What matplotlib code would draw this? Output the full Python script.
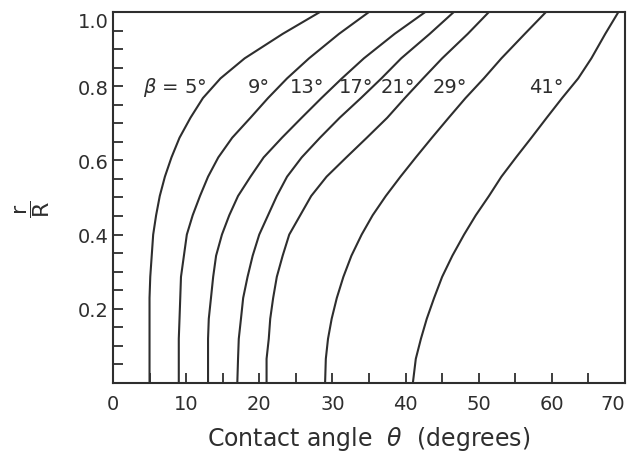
import numpy as np
import matplotlib.pyplot as plt

r_over_R = [0, 0.065, 0.119, 0.173, 0.229, 0.286, 0.343, 0.400, 0.452, 0.504,
            0.556, 0.608, 0.661, 0.715, 0.768, 0.821, 0.875, 0.941, 1.0]

# contact angle (degrees) along each curve
theta_5 = [5.0, 5.0, 5.0, 5.0, 5.0, 5.1, 5.3, 5.5, 5.9, 6.4,
           7.1, 8.0, 9.1, 10.6, 12.3, 14.7, 18.0, 23.2, 28.3]
theta_9 = [9.0, 9.0, 9.0, 9.1, 9.2, 9.3, 9.7, 10.1, 10.9, 11.9,
           13.0, 14.4, 16.3, 18.8, 21.2, 23.8, 26.8, 30.9, 35.0]
theta_13 = [13.0, 13.0, 13.0, 13.1, 13.4, 13.7, 14.1, 14.9, 15.9, 17.1,
            18.8, 20.6, 23.1, 25.8, 28.5, 31.3, 34.3, 38.5, 42.7]
theta_17 = [17.0, 17.1, 17.2, 17.5, 17.8, 18.4, 19.1, 20.0, 21.2, 22.4,
            23.8, 25.8, 28.3, 31.0, 33.9, 36.7, 39.4, 43.3, 46.6]
theta_21 = [21.0, 21.0, 21.3, 21.5, 21.9, 22.4, 23.2, 24.1, 25.6, 27.1,
            29.2, 31.9, 34.7, 37.5, 39.9, 42.4, 45.0, 48.5, 51.4]
theta_29 = [29.0, 29.1, 29.4, 29.9, 30.6, 31.5, 32.6, 34.0, 35.5, 37.3,
            39.3, 41.4, 43.6, 45.9, 48.2, 50.7, 53.1, 56.3, 59.2]
theta_41 = [41.0, 41.4, 42.1, 42.9, 43.9, 45.0, 46.4, 48.0, 49.6, 51.4,
            53.1, 55.1, 57.2, 59.3, 61.4, 63.6, 65.4, 67.3, 69.1]

curves = [theta_5, theta_9, theta_13, theta_17, theta_21, theta_29, theta_41]
labels = [r'$\beta$ = 5°', '9°', '13°', '17°', '21°', '29°', '41°']
label_x = [8.4, 20.0, 26.5, 33.3, 38.9, 46.1, 59.3]
label_y = 0.8

ink = '#2e2e2e'
plt.rcParams['font.family'] = ['DejaVu Sans']
plt.rcParams['mathtext.fontset'] = 'dejavusans'

fig = plt.figure(figsize=(6.31, 4.56), dpi=100)
ax = fig.add_axes([0.179, 0.158, 0.8115, 0.8135])

for th in curves:
    ax.plot(th, r_over_R, color=ink, lw=1.5, solid_joinstyle='round')

for lab, lx in zip(labels, label_x):
    ax.text(lx, label_y, lab, ha='center', va='center', fontsize=14, color=ink)

ax.set_xlim(0, 70)
ax.set_ylim(0, 1.0)
ax.set_xticks(np.arange(0, 71, 10))
ax.set_xticks(np.arange(0, 71, 5), minor=True)
ax.set_yticks([0.2, 0.4, 0.6, 0.8, 1.0])
ax.set_yticklabels(['0.2', '0.4', '0.6', '0.8', '1.0'])
ax.set_yticks(np.arange(0.05, 1.0, 0.05), minor=True)

ax.tick_params(which='both', direction='in', length=7.5, width=1.3, color=ink,
               labelsize=14, labelcolor=ink, top=False, right=False)
ax.tick_params(axis='x', pad=8)
ax.tick_params(axis='y', pad=3)

# keep the last x label inside the figure, nudge 1.0 down like the original
ax.get_xticklabels()[-1].set_ha('right')
ax.get_yticklabels()[-1].set_va('top')

for s in ax.spines.values():
    s.set_color(ink)
    s.set_linewidth(1.5)

ax.set_xlabel(r'Contact angle  $\theta$  (degrees)', fontsize=17, color=ink, labelpad=8)
ax.set_ylabel(r'$\dfrac{\mathrm{r}}{\mathrm{R}}$', fontsize=16, color=ink, rotation=90)
ax.yaxis.set_label_coords(-0.12, 0.47)

fig.savefig('out.png', dpi=100, facecolor='white')
